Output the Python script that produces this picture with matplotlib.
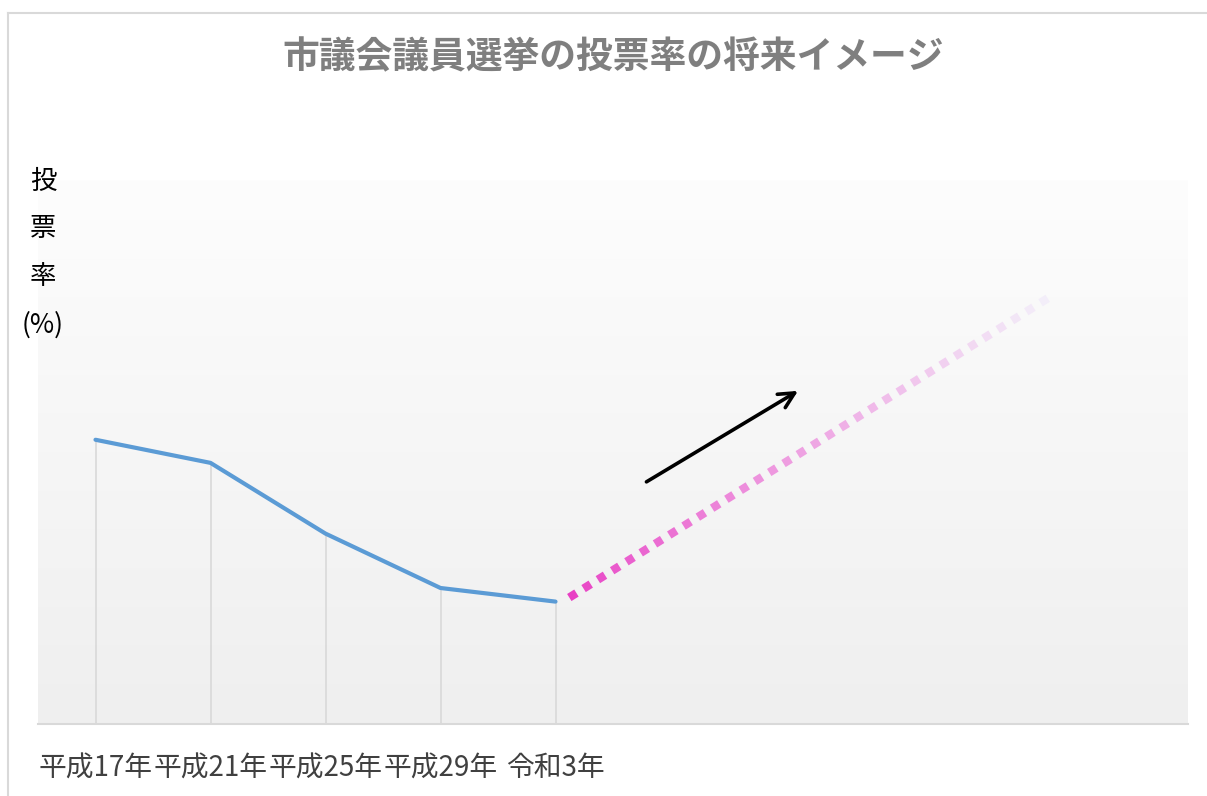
import numpy as np
import matplotlib.pyplot as plt
from matplotlib.collections import LineCollection
from matplotlib.colors import to_rgb
from matplotlib.lines import Line2D

plt.rcParams['font.family'] = ['Noto Sans CJK JP', 'DejaVu Sans']

# data
years = ['平成17年', '平成21年', '平成25年', '平成29年', '令和3年']
turnout = [50.9, 49.2, 44.0, 40.0, 39.0]
n_slots = 10

# future image (dotted projection) and arrow, in data units
proj_x = [4.12, 8.28]
proj_y = [39.3, 61.3]
arrow_x = [4.77, 6.13]
arrow_y = [47.7, 54.6]

title = '市議会議員選挙の投票率の将来イメージ'
ylabel_chars = ['投', '票', '率', '(%)']

W, H = 1207, 796
fig = plt.figure(figsize=(W / 100, H / 100), dpi=100)
fig.patch.set_facecolor('white')

# outer chart border (top and left visible)
fig.add_artist(Line2D([8 / W, 1.0], [1 - 13 / H, 1 - 13 / H], color='#d9d9d9', lw=1.5))
fig.add_artist(Line2D([8 / W, 8 / W], [0, 1 - 13 / H], color='#d9d9d9', lw=1.5))

left, right = 38 / W, 1188 / W
bottom, top = 1 - 724 / H, 1 - 180 / H
ax = fig.add_axes([left, bottom, right - left, top - bottom])
ax.set_xlim(-0.5, n_slots - 0.5)
ax.set_ylim(30, 70)

# gradient background
grad = np.linspace(0, 1, 256).reshape(-1, 1)
c_top = np.array(to_rgb('#fdfdfd'))
c_bot = np.array(to_rgb('#efefef'))
img = c_top + (c_bot - c_top) * grad[:, :, None]
ax.imshow(img, extent=[-0.5, n_slots - 0.5, 30, 70], origin='upper',
          aspect='auto', zorder=0)

x = np.arange(len(years))
# drop lines
ax.vlines(x, 30, turnout, color='#d9d9d9', lw=1.2, zorder=1)
ax.plot(x, turnout, color='#5b9bd5', lw=3.0, zorder=3, solid_capstyle='round')

# fading dotted projection
n_dots = 34
t = np.linspace(0, 1, 2 * n_dots)
px = proj_x[0] + (proj_x[1] - proj_x[0]) * t
py = proj_y[0] + (proj_y[1] - proj_y[0]) * t
segs = [[(px[2 * i], py[2 * i]), (px[2 * i + 1], py[2 * i + 1])] for i in range(n_dots)]
c0 = np.array(to_rgb('#e840c4'))
c1 = np.array(to_rgb('#f3eef9'))
f = np.linspace(0, 1, n_dots) ** 0.8
cols = [c0 + (c1 - c0) * k for k in f]
lc = LineCollection(segs, colors=cols, linewidths=6.0, capstyle='butt', zorder=3)
ax.add_collection(lc)

# arrow
ax.annotate('', xy=(arrow_x[1], arrow_y[1]), xytext=(arrow_x[0], arrow_y[0]),
            arrowprops=dict(arrowstyle='->', color='black', lw=2.6, mutation_scale=28),
            zorder=4)

for s in ['top', 'right', 'left']:
    ax.spines[s].set_visible(False)
ax.spines['bottom'].set_color('#d9d9d9')
ax.spines['bottom'].set_linewidth(1.5)
ax.set_yticks([])
ax.set_xticks(x)
ax.set_xticklabels(years, fontsize=20, color='#404040')
ax.tick_params(axis='x', length=0, pad=21)

fig.text(613 / W, 1 - 58 / H, title, ha='center', va='center',
         fontsize=26.5, fontweight='bold', color='#7f7f7f')

for i, ch in enumerate(ylabel_chars):
    fig.text(43 / W, 1 - (181 + 48 * i) / H, ch, ha='center', va='center',
             fontsize=19, color='black')

fig.savefig('out.png', dpi=100)
